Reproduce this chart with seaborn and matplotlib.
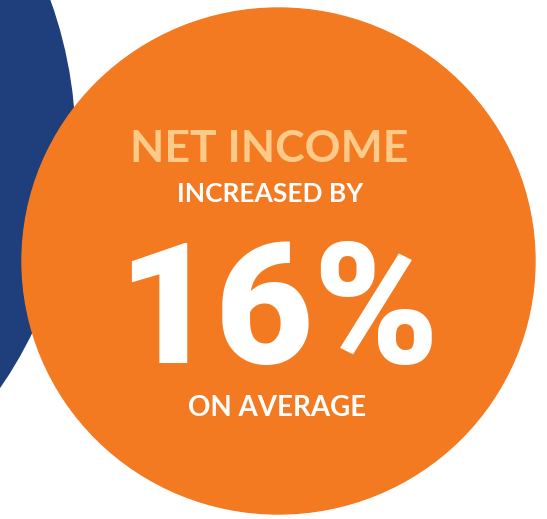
#### Imports ####
import matplotlib
matplotlib.use('Agg')
import seaborn as sns
import matplotlib.pyplot as plt
from matplotlib.patches import Circle, Ellipse

#### Data ####
headline = 'NET INCOME'
subline = 'INCREASED BY'
value = 16  # percent
footer = 'ON AVERAGE'

#### Style ####
sns.set_theme(style='white')
plt.rcParams['font.family'] = ['Lato', 'DejaVu Sans']

orange = '#F47A21'
navy = '#1F3E7C'
peach = '#FCCB8A'

fig = plt.figure(figsize=(5.47, 5.19), dpi=100)
ax = fig.add_axes([0, 0, 1, 1])
ax.set_xlim(0, 547)
ax.set_ylim(519, 0)  # pixel coords, y down
ax.axis('off')

# background shapes
ax.add_patch(Circle((-353, 145), 428, color=navy, zorder=1))
ax.add_patch(Ellipse((278.5, 261), 513, 506, color=orange, zorder=2))

# texts
cx = 269
ax.text(cx, 149, headline, color=peach, fontsize=32, fontweight='bold',
        ha='center', va='center', zorder=3)
ax.text(cx + 1, 194, subline, color='white', fontsize=19, fontweight='bold',
        ha='center', va='center', zorder=3)
ax.text(cx + 9, 363, f'{value}%', color='white', fontsize=122,
        fontweight='black', family=['Roboto', 'DejaVu Sans'],
        ha='center', va='baseline', zorder=3)
ax.text(cx + 8, 408, footer, color='white', fontsize=20, fontweight='bold',
        ha='center', va='center', zorder=3)

fig.savefig('out.png', dpi=100)
